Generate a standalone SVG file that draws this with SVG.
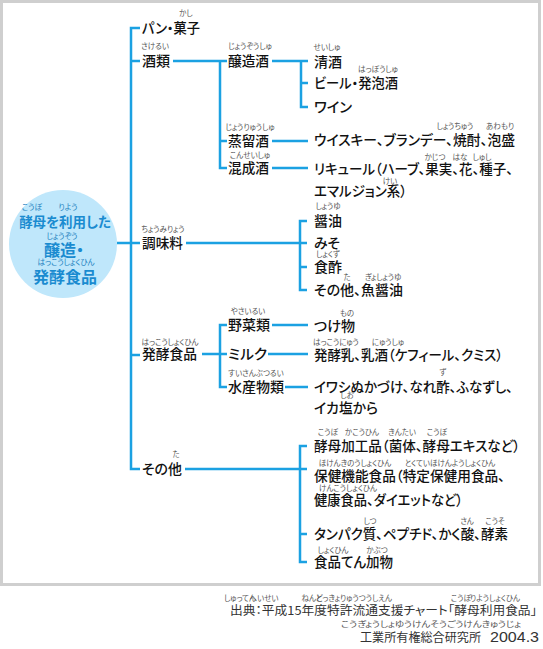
<svg xmlns="http://www.w3.org/2000/svg" width="543" height="649" viewBox="0 0 543 649">
<style>
text{font-family:"Noto Sans CJK JP","Noto Sans CJK SC",sans-serif;font-feature-settings:"palt";}
.t{font-size:14px;fill:#111;font-weight:500;}
.r{font-size:7.5px;fill:#555;text-anchor:middle;}
.c{fill:#1a8bd0;font-weight:bold;text-anchor:middle;}
.cr{font-size:7.5px;fill:#1a7fc0;text-anchor:middle;}
.ln{stroke:#1ba1e2;stroke-width:2.5;fill:none;}
.f{font-size:12px;fill:#333;}
</style>
<rect x="1.5" y="1.5" width="538" height="583" fill="#fff" stroke="#cfcfcf" stroke-width="3"/>

<g id="connectors" class="ln">
<path d="M140,28 H131 V469 H140 M131,61 H140 M117,243 H140 M131,355 H140"/>
<path d="M173,61 H227 M227,168 H220 V61 M220,141 H227"/>
<path d="M272,61 H308 M301,61 V107 H308 M301,83 H308"/>
<path d="M272,141 H308 M272,168 H308"/>
<path d="M186,243 H307 M307,221 H300 V290 H307 M300,267 H307"/>
<path d="M202,354 H227 M227,325 H220 V387 H227"/>
<path d="M272,325 H308 M268,354 H308 M285,387 H308"/>
<path d="M185,469 H307 M307,446 H300 V562 H307 M300,534 H307"/>
</g>

<g id="root">
<circle cx="63" cy="244" r="54" fill="#bfe7fb"/>
<text class="cr" x="32" y="210">こうぼ</text>
<text class="cr" x="68" y="210">りよう</text>
<text class="c" x="65" y="227" font-size="13.5">酵母を利用した</text>
<text class="cr" x="62" y="239">じょうぞう</text>
<text class="c" x="64" y="256" font-size="16">醸造・</text>
<text class="cr" x="66" y="265">はっこうしょくひん</text>
<text class="c" x="65" y="283" font-size="16">発酵食品</text>
</g>

<g id="pan">
<text class="r" x="186" y="16">かし</text>
<text class="t" x="142" y="33" textLength="58" lengthAdjust="spacingAndGlyphs">パン・菓子</text>
</g>
<g id="sakerui">
<text class="r" x="155" y="49">さけるい</text>
<text class="t" x="142" y="66" textLength="28" lengthAdjust="spacingAndGlyphs">酒類</text>
</g>
<g id="jozoshu">
<text class="r" x="250" y="49">じょうぞうしゅ</text>
<text class="t" x="228" y="66" textLength="41" lengthAdjust="spacingAndGlyphs">醸造酒</text>
</g>
<g id="seishu">
<text class="r" x="327" y="50">せいしゅ</text>
<text class="t" x="314" y="67" textLength="28" lengthAdjust="spacingAndGlyphs">清酒</text>
</g>
<g id="beer">
<text class="r" x="378" y="72">はっぽうしゅ</text>
<text class="t" x="314" y="88" textLength="84" lengthAdjust="spacingAndGlyphs">ビール・発泡酒</text>
</g>
<g id="wine">
<text class="t" x="314" y="112" textLength="38" lengthAdjust="spacingAndGlyphs">ワイン</text>
</g>
<g id="joryushu">
<text class="r" x="250" y="130">じょうりゅうしゅ</text>
<text class="t" x="228" y="146" textLength="41" lengthAdjust="spacingAndGlyphs">蒸留酒</text>
</g>
<g id="whisky">
<text class="r" x="455" y="129">しょうちゅう</text>
<text class="r" x="500" y="129">あわもり</text>
<text class="t" x="314" y="145" textLength="201" lengthAdjust="spacingAndGlyphs">ウイスキー、ブランデー、焼酎、泡盛</text>
</g>
<g id="konseishu">
<text class="r" x="250" y="158">こんせいしゅ</text>
<text class="t" x="228" y="173" textLength="41" lengthAdjust="spacingAndGlyphs">混成酒</text>
</g>
<g id="liqueur">
<text class="r" x="435" y="160">かじつ</text>
<text class="r" x="460" y="160">はな</text>
<text class="r" x="482" y="160">しゅし</text>
<text class="t" x="314" y="174" textLength="199" lengthAdjust="spacingAndGlyphs">リキュール（ハーブ、果実、花、種子、</text>
<text class="r" x="390" y="184">けい</text>
<text class="t" x="314" y="196" textLength="93" lengthAdjust="spacingAndGlyphs">エマルジョン系）</text>
</g>

<g id="chomiryo">
<text class="r" x="163" y="232">ちょうみりょう</text>
<text class="t" x="142" y="248" textLength="41" lengthAdjust="spacingAndGlyphs">調味料</text>
</g>
<g id="shoyu">
<text class="r" x="328" y="209">しょうゆ</text>
<text class="t" x="314" y="226" textLength="28" lengthAdjust="spacingAndGlyphs">醤油</text>
</g>
<g id="miso">
<text class="t" x="314" y="248" textLength="26" lengthAdjust="spacingAndGlyphs">みそ</text>
</g>
<g id="shokusu">
<text class="r" x="328" y="257">しょくず</text>
<text class="t" x="314" y="272" textLength="28" lengthAdjust="spacingAndGlyphs">食酢</text>
</g>
<g id="gyoshoyu">
<text class="r" x="347" y="280">た</text>
<text class="r" x="383" y="280">ぎょしょうゆ</text>
<text class="t" x="314" y="295" textLength="89" lengthAdjust="spacingAndGlyphs">その他、魚醤油</text>
</g>

<g id="hakko">
<text class="r" x="170" y="345">はっこうしょくひん</text>
<text class="t" x="142" y="359" textLength="55" lengthAdjust="spacingAndGlyphs">発酵食品</text>
</g>
<g id="yasai">
<text class="r" x="248" y="314">やさいるい</text>
<text class="t" x="228" y="330" textLength="42" lengthAdjust="spacingAndGlyphs">野菜類</text>
</g>
<g id="tsukemono">
<text class="r" x="347" y="316">もの</text>
<text class="t" x="314" y="331" textLength="41" lengthAdjust="spacingAndGlyphs">つけ物</text>
</g>
<g id="milk">
<text class="t" x="228" y="359" textLength="39" lengthAdjust="spacingAndGlyphs">ミルク</text>
</g>
<g id="hakkonyu">
<text class="r" x="336" y="345">はっこうにゅう</text>
<text class="r" x="388" y="345">にゅうしゅ</text>
<text class="t" x="314" y="360" textLength="189" lengthAdjust="spacingAndGlyphs">発酵乳、乳酒（ケフィール、クミス）</text>
</g>
<g id="suisan">
<text class="r" x="256" y="376">すいさんぶつるい</text>
<text class="t" x="228" y="392" textLength="56" lengthAdjust="spacingAndGlyphs">水産物類</text>
</g>
<g id="iwashi">
<text class="r" x="443" y="375">ず</text>
<text class="t" x="314" y="392" textLength="199" lengthAdjust="spacingAndGlyphs">イワシぬかづけ、なれ酢、ふなずし、</text>
<text class="r" x="347" y="398">しお</text>
<text class="t" x="314" y="413" textLength="64" lengthAdjust="spacingAndGlyphs">イカ塩から</text>
</g>

<g id="sonota">
<text class="r" x="176" y="457">た</text>
<text class="t" x="142" y="474" textLength="40" lengthAdjust="spacingAndGlyphs">その他</text>
</g>
<g id="kobokakohin">
<text class="r" x="328" y="435">こうぼ</text>
<text class="r" x="362" y="435">かこうひん</text>
<text class="r" x="402" y="435">きんたい</text>
<text class="r" x="437" y="435">こうぼ</text>
<text class="t" x="314" y="451" textLength="206" lengthAdjust="spacingAndGlyphs">酵母加工品（菌体、酵母エキスなど）</text>
</g>
<g id="hoken">
<text class="r" x="355" y="466">ほけんきのうしょくひん</text>
<text class="r" x="450" y="466">とくていほけんようしょくひん</text>
<text class="t" x="314" y="481" textLength="191" lengthAdjust="spacingAndGlyphs">保健機能食品（特定保健用食品、</text>
<text class="r" x="348" y="491">けんこうしょくひん</text>
<text class="t" x="314" y="505" textLength="149" lengthAdjust="spacingAndGlyphs">健康食品、ダイエットなど）</text>
</g>
<g id="tanpaku">
<text class="r" x="370" y="524">しつ</text>
<text class="r" x="467" y="524">さん</text>
<text class="r" x="495" y="524">こうそ</text>
<text class="t" x="314" y="539" textLength="194" lengthAdjust="spacingAndGlyphs">タンパク質、ペプチド、かく酸、酵素</text>
</g>
<g id="tenkabutsu">
<text class="r" x="333" y="553">しょくひん</text>
<text class="r" x="377" y="553">かぶつ</text>
<text class="t" x="314" y="567" textLength="79" lengthAdjust="spacingAndGlyphs">食品てん加物</text>
</g>

<g id="source">
<text class="r" x="240" y="601">しゅってん</text>
<text class="r" x="264" y="601">へいせい</text>
<text class="r" x="312" y="601">ねんど</text>
<text class="r" x="354" y="601">とっきょりゅうつうしえん</text>
<text class="r" x="461" y="601">こうぼ</text>
<text class="r" x="495" y="601">りようしょくひん</text>
<text class="f" x="230" y="615" textLength="307" lengthAdjust="spacingAndGlyphs">出典：平成15年度特許流通支援チャート「酵母利用食品」</text>
<text class="r" x="431" y="627" textLength="180" lengthAdjust="spacingAndGlyphs">こうぎょうしょゆうけんそうごうけんきゅうじょ</text>
<text class="f" x="360" y="642" textLength="121" lengthAdjust="spacingAndGlyphs">工業所有権総合研究所</text>
<text x="490" y="642" textLength="49" lengthAdjust="spacingAndGlyphs" style="font-family:'Liberation Sans',sans-serif;font-size:15px;fill:#333;">2004.3</text>
</g>
</svg>
